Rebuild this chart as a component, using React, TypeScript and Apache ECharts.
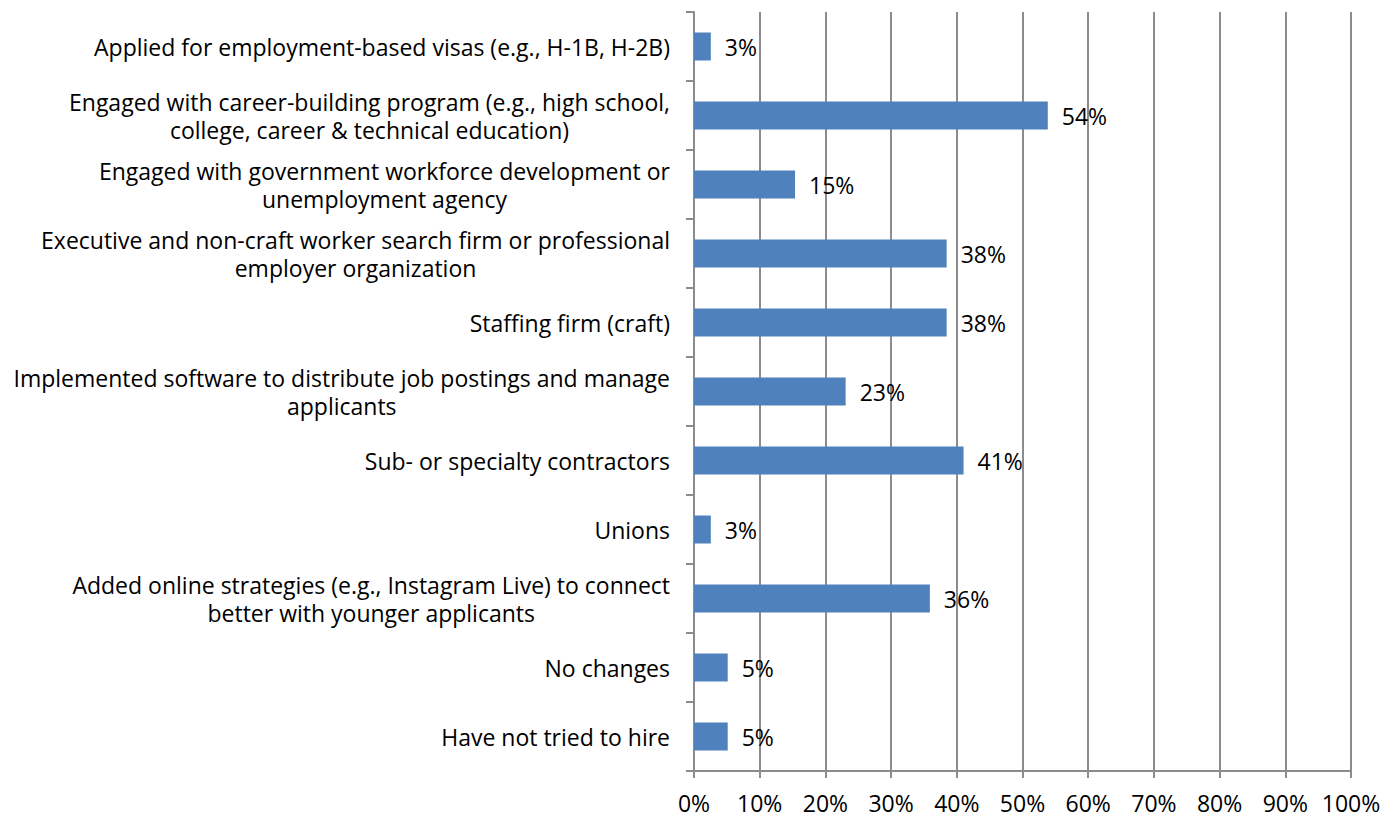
import React, { useEffect, useRef } from "react";
import * as echarts from "echarts";

const categories: string[] = [
  "Applied for employment-based visas (e.g., H-1B, H-2B)",
  "Engaged with career-building program (e.g., high school,\ncollege, career & technical education)",
  "Engaged with government workforce development or\nunemployment agency",
  "Executive and non-craft worker search firm or professional\nemployer organization",
  "Staffing firm (craft)",
  "Implemented software to distribute job postings and manage\napplicants",
  "Sub- or specialty contractors",
  "Unions",
  "Added online strategies (e.g., Instagram Live) to connect\nbetter with younger applicants",
  "No changes",
  "Have not tried to hire",
];

const values: number[] = [2.56, 53.85, 15.38, 38.46, 38.46, 23.08, 41.03, 2.56, 35.9, 5.13, 5.13];

const xTicks: number[] = [0, 10, 20, 30, 40, 50, 60, 70, 80, 90, 100];

const FONT = "'Open Sans', sans-serif";
const GRAY = "#8c8c8c";

export default function App() {
  const ref = useRef<HTMLDivElement>(null);

  useEffect(() => {
    document.body.style.margin = "0";
    const chart = echarts.init(ref.current!, null, { renderer: "svg" });
    chart.setOption({
      animation: false,
      backgroundColor: "#ffffff",
      grid: {
        left: 694,
        right: 47,
        top: 12,
        bottom: 46,
        containLabel: false,
        outerBoundsMode: "none",
      },
      xAxis: {
        type: "value",
        min: xTicks[0],
        max: xTicks[xTicks.length - 1],
        interval: 10,
        axisLine: { show: true, lineStyle: { color: GRAY, width: 2 } },
        axisTick: { show: true, length: 7, lineStyle: { color: GRAY, width: 2 } },
        splitLine: { show: true, lineStyle: { color: GRAY, width: 2 } },
        axisLabel: {
          formatter: "{value}%",
          color: "#000",
          fontFamily: FONT,
          fontSize: 23,
          margin: 20,
        },
      },
      yAxis: {
        type: "category",
        inverse: true,
        data: categories,
        axisLine: { show: true, lineStyle: { color: GRAY, width: 2 } },
        axisTick: { show: true, length: 8, lineStyle: { color: GRAY, width: 2 } },
        splitLine: { show: false },
        axisLabel: {
          margin: 24,
          align: "right",
          interval: 0,
          formatter: (v: string) =>
            v
              .split("\n")
              .map((l) => "{c|" + l + "}")
              .join("\n"),
          rich: {
            c: {
              color: "#000",
              fontFamily: FONT,
              fontSize: 23,
              lineHeight: 28,
              align: "center",
            },
          },
        },
      },
      series: [
        {
          type: "bar",
          data: values,
          barWidth: 28,
          itemStyle: { color: "#4F81BD" },
          label: {
            show: true,
            position: "right",
            distance: 14,
            color: "#000",
            fontFamily: FONT,
            fontSize: 23,
            formatter: (p: any) => Math.round(p.value) + "%",
          },
        },
      ],
    });
    return () => chart.dispose();
  }, []);

  return (
    <div
      ref={ref}
      style={{ position: "fixed", left: 0, top: 0, width: 1398, height: 817 }}
    />
  );
}
